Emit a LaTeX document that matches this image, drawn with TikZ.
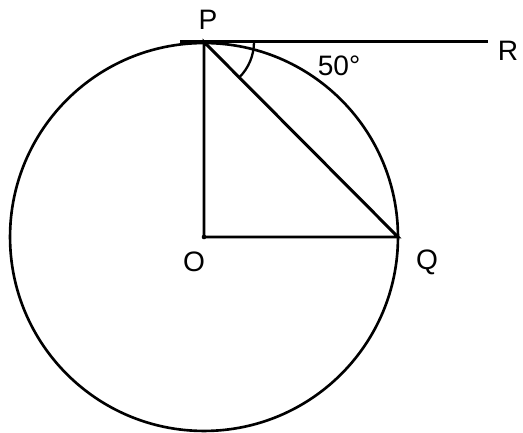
\documentclass[tikz,border=0pt]{standalone}
\usepackage{fontspec}
\setmainfont{Liberation Sans}
\begin{document}
\begin{tikzpicture}[x=0.02cm,y=0.02cm,
  lbl/.style={font=\fontsize{16}{18}\selectfont},
  thick line/.style={line width=1.7pt}]
\useasboundingbox (0,0) rectangle (523,432);
% points
\coordinate (O) at (204,195);
\coordinate (P) at (204,390);
\coordinate (Q) at (398,195);
\coordinate (T) at (180,390);
\coordinate (R) at (488,390);
% circle and lines
\draw[line width=1.5pt] (O) circle [radius=3.88cm];
\draw[thick line] (T) -- (R);
\draw[thick line] (P) -- (O) -- (Q) -- cycle;
\fill (O) circle [radius=1.3pt];
% angle mark
\draw[line width=1.3pt] ([shift={(0:1cm)}]P) arc [start angle=0,end angle=-45,radius=1cm];
% labels
\node[lbl] (lP) at (208,412) {P};
\node[lbl] (lR) at (508,381) {R};
\node[lbl] (lO) at (194,170) {O};
\node[lbl] (lQ) at (427,170) {Q};
\node[lbl] (ang) at (339,366) {50°};
\end{tikzpicture}
\end{document}
